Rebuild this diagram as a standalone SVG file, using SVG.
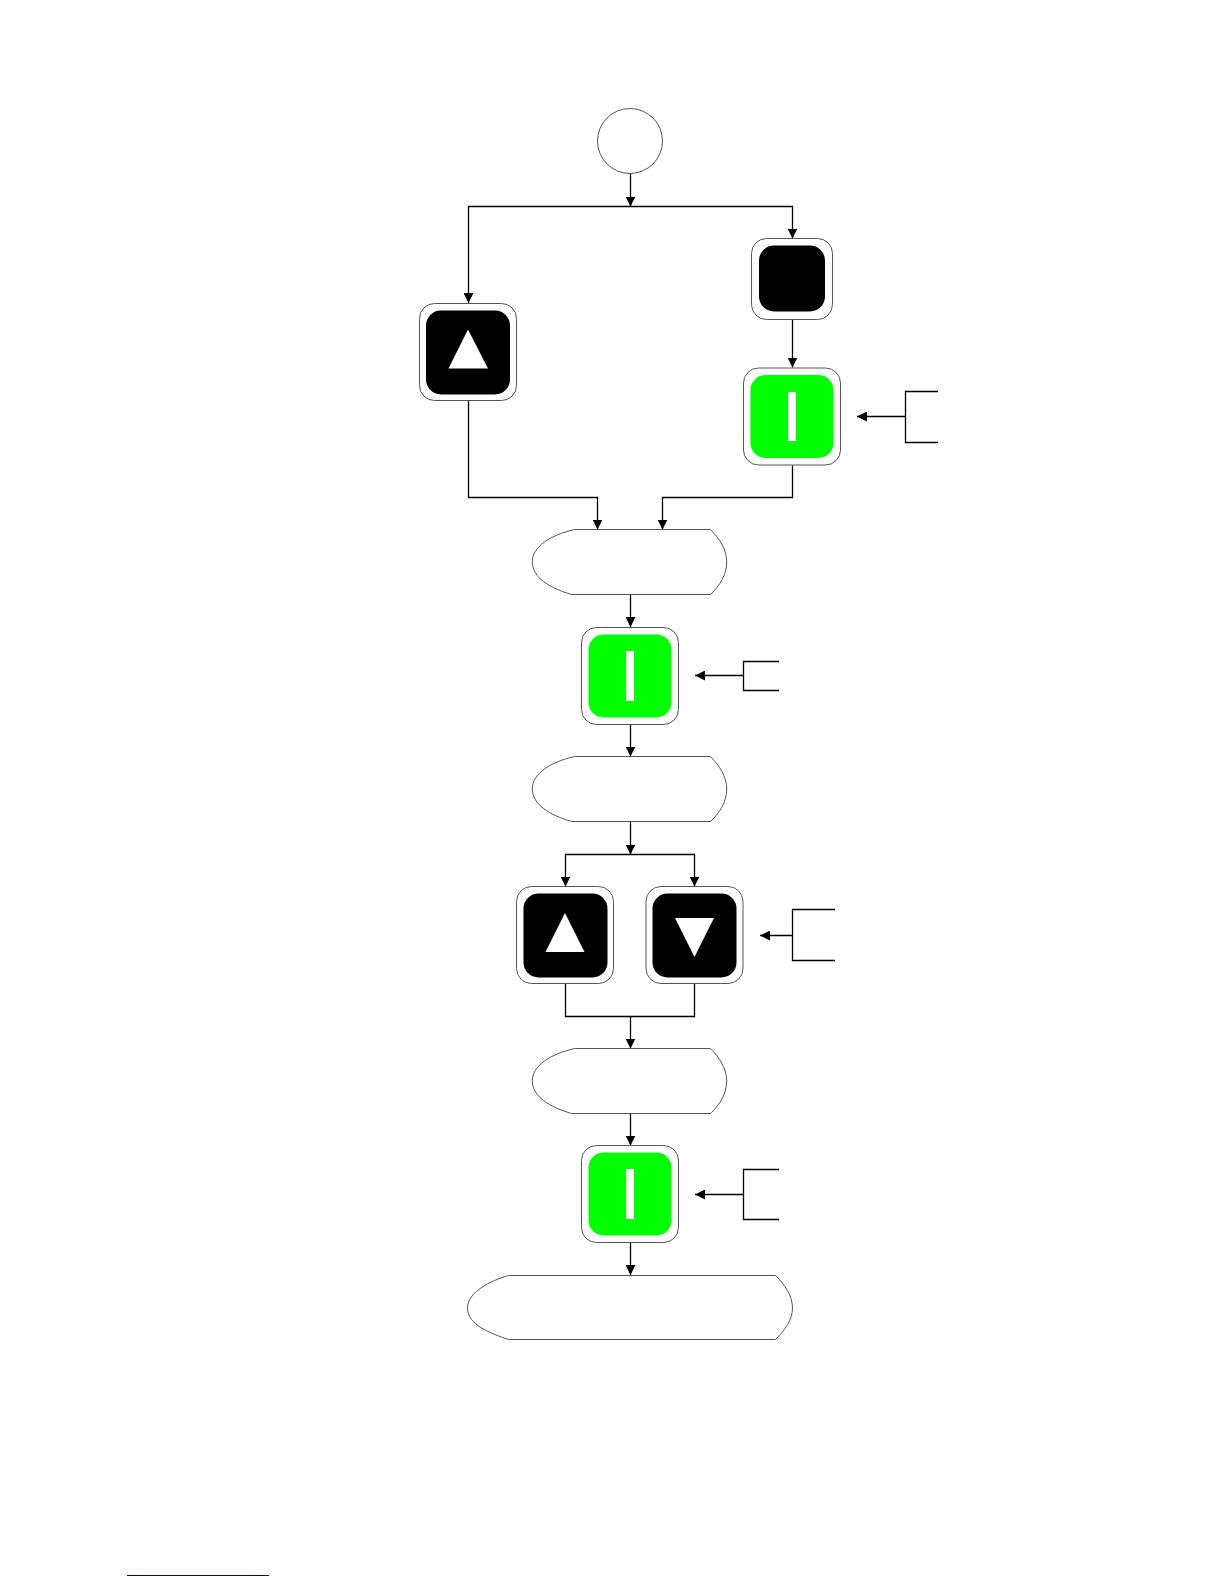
<svg xmlns="http://www.w3.org/2000/svg" width="1224" height="1584" viewBox="0 0 1224 1584">
<style>
.outer{fill:#fff;stroke:#555;stroke-width:1}
.blk{fill:#000}
.grn{fill:#0f0}
.wht{fill:#fff}
.shape{fill:#fff;stroke:#555;stroke-width:1}
.conn{fill:none;stroke:#000;stroke-width:1.3}
</style>
<defs>
<marker id="arrow" markerUnits="userSpaceOnUse" markerWidth="10" markerHeight="10" refX="10" refY="5" orient="auto"><path d="M0,0 L10,5 L0,10 Z" fill="#000"/></marker>
<path id="display" d="M42.7,0.5 L178.4,0.5 C188,10 194.7,21 194.7,33 C194.7,46 188,56 178.7,65.5 L39.4,65.5 C18,59 0.3,49 0.3,32.7 C0.3,18 18,6 42.7,0.5 Z"/>
</defs>
<rect width="1224" height="1584" fill="#fff"/>
<g id="connectors" class="conn">
<path d="M630.5,173.5 V206.5" marker-end="url(#arrow)"/>
<path d="M630.5,206.5 H468.5 V303" marker-end="url(#arrow)"/>
<path d="M630.5,206.5 H792.5 V238.5" marker-end="url(#arrow)"/>
<path d="M792.5,319.5 V367.5" marker-end="url(#arrow)"/>
<path d="M468.5,400.5 V497.5 H597.5 V529.5" marker-end="url(#arrow)"/>
<path d="M792.5,465.5 V497.5 H662.5 V529.5" marker-end="url(#arrow)"/>
<path d="M938,391.5 H905.5 V442.5 H938 M905.5,416.5 H857" marker-end="url(#arrow)"/>
<path d="M630.5,594.5 V627" marker-end="url(#arrow)"/>
<path d="M630.5,724.5 V756.5" marker-end="url(#arrow)"/>
<path d="M779,661.5 H743.5 V690.5 H779 M743.5,675.5 H695" marker-end="url(#arrow)"/>
<path d="M630.5,821.5 V854.5" marker-end="url(#arrow)"/>
<path d="M630.5,854.5 H565.5 V886.5" marker-end="url(#arrow)"/>
<path d="M630.5,854.5 H694.5 V886.5" marker-end="url(#arrow)"/>
<path d="M835,909.5 H792.5 V960.5 H835 M792.5,935.5 H760" marker-end="url(#arrow)"/>
<path d="M565.5,983.5 V1016.5 H694.5 V983.5"/>
<path d="M630.5,1016.5 V1048.5" marker-end="url(#arrow)"/>
<path d="M630.5,1113.5 V1145.5" marker-end="url(#arrow)"/>
<path d="M779,1169.5 H743.5 V1219.5 H779 M743.5,1194.5 H695" marker-end="url(#arrow)"/>
<path d="M630.5,1242.5 V1275" marker-end="url(#arrow)"/>
</g>
<g id="start"><circle class="shape" cx="630" cy="141" r="32.5"/></g>
<g id="node-up-left">
<rect class="outer" x="419.5" y="303.5" width="97" height="97" rx="15"/>
<rect class="blk" x="426" y="310.5" width="84" height="84" rx="15"/>
<polygon class="wht" points="468,329.5 448.5,368.5 488,368.5"/>
</g>
<g id="node-stop">
<rect class="outer" x="751.5" y="238.5" width="81" height="81" rx="15"/>
<rect class="blk" x="759" y="245.5" width="66" height="66" rx="15"/>
</g>
<g id="node-green-1">
<rect class="outer" x="743.5" y="368" width="97" height="97" rx="15"/>
<rect class="grn" x="750.5" y="375" width="83" height="83" rx="15"/>
<rect class="wht" x="788" y="392" width="8" height="49"/>
</g>
<g id="display-1"><use class="shape" href="#display" x="532" y="529"/></g>
<g id="node-green-2">
<rect class="outer" x="581.5" y="627.5" width="97" height="97" rx="15"/>
<rect class="grn" x="588.5" y="634.5" width="83" height="83" rx="15"/>
<rect class="wht" x="626" y="651" width="8" height="50"/>
</g>
<g id="display-2"><use class="shape" href="#display" x="532" y="756"/></g>
<g id="node-up">
<rect class="outer" x="516.5" y="886.5" width="97" height="97" rx="15"/>
<rect class="blk" x="523.5" y="893.5" width="84" height="84" rx="15"/>
<polygon class="wht" points="565,913 545.5,952 584.5,952"/>
</g>
<g id="node-down">
<rect class="outer" x="646" y="886.5" width="97" height="97" rx="15"/>
<rect class="blk" x="652.5" y="893.5" width="84" height="84" rx="15"/>
<polygon class="wht" points="675,918 714,918 694.5,957"/>
</g>
<g id="display-3"><use class="shape" href="#display" x="532" y="1048"/></g>
<g id="node-green-3">
<rect class="outer" x="581.5" y="1145.5" width="97" height="97" rx="15"/>
<rect class="grn" x="588.5" y="1152.5" width="83" height="83" rx="15"/>
<rect class="wht" x="626" y="1169" width="8" height="50"/>
</g>
<g id="display-4"><path class="shape" d="M508.5,1275.5 L775.5,1275.5 C785,1285 792.5,1296 792.5,1308 C792.5,1320 785,1330 775.5,1339.5 L508.5,1339.5 C490,1333 467.5,1325 467.5,1308 C467.5,1292 490,1281 508.5,1275.5 Z"/></g>
<rect x="127" y="1575" width="142" height="1" fill="#00008b"/>
</svg>
